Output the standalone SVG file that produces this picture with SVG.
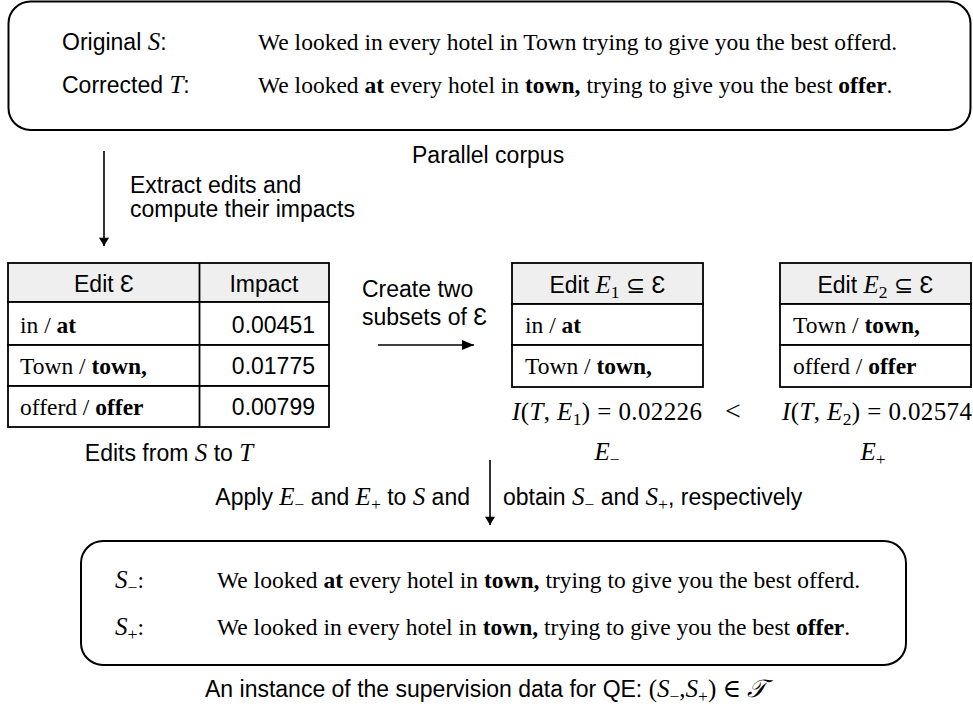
<svg xmlns="http://www.w3.org/2000/svg" width="973" height="709" viewBox="0 0 973 709">
  <defs>
    <style>
      .sans { font-family: "Liberation Sans", Arial, "DejaVu Sans", sans-serif; font-size: 23px; fill: #000; }
      .serif { font-family: "Liberation Serif", "Times New Roman", "DejaVu Serif", serif; font-size: 23.5px; fill: #000; }
      .m { font-family: "Liberation Serif", "Times New Roman", "DejaVu Serif", serif; font-style: italic; font-size: 25px; }
      .up { font-family: "Liberation Serif", "Times New Roman", "DejaVu Serif", serif; font-style: normal; font-size: 25px; }
      .sub { font-family: "Liberation Serif", "Times New Roman", "DejaVu Serif", serif; font-size: 17.5px; font-style: normal; }
      .b { font-weight: bold; }
      .box { fill: #fff; stroke: #000; stroke-width: 2; }
      .cell { fill: #fff; stroke: #000; stroke-width: 1.8; }
      .head { fill: #efefef; stroke: #000; stroke-width: 1.8; }
      .conn { fill: none; stroke: #000; stroke-width: 1.6; }
    </style>
    <marker id="arrow" viewBox="0 0 10 12" refX="10" refY="6" markerWidth="11" markerHeight="10" markerUnits="userSpaceOnUse" orient="auto">
      <path d="M0,0 L10,6 L0,12 Z" fill="#000"/>
    </marker>
    <marker id="arrowL" viewBox="0 0 12 10" refX="12" refY="5" markerWidth="12" markerHeight="10" markerUnits="userSpaceOnUse" orient="auto">
      <path d="M0,0 L12,5 L0,10 Z" fill="#000"/>
    </marker>
  </defs>

  <!-- Parallel corpus: original and corrected sentence -->
  <g id="corpus">
    <rect class="box" x="8.5" y="1.5" width="962" height="128.5" rx="22" ry="22"/>
    <text class="sans" x="62" y="50">Original <tspan class="m">S</tspan>:</text>
    <text class="sans" x="62" y="93">Corrected <tspan class="m">T</tspan>:</text>
    <text class="serif" x="258" y="50">We looked in every hotel in Town trying to give you the best offerd.</text>
    <text class="serif" x="258" y="93">We looked <tspan class="b">at</tspan> every hotel in <tspan class="b">town,</tspan> trying to give you the best <tspan class="b">offer</tspan>.</text>
  </g>
  <text class="sans" x="412" y="163">Parallel corpus</text>

  <!-- Edit table with impacts -->
  <g id="edits">
    <rect class="head" x="8" y="263" width="321" height="39"/>
    <rect class="cell" x="8" y="302" width="321" height="43"/>
    <rect class="cell" x="8" y="345" width="321" height="41"/>
    <rect class="cell" x="8" y="386" width="321" height="41"/>
    <line class="cell" x1="199.5" y1="263" x2="199.5" y2="427"/>
    <text class="sans" x="104" y="292" text-anchor="middle">Edit Ɛ</text>
    <text class="sans" x="264" y="292" text-anchor="middle">Impact</text>
    <text class="serif" x="20" y="333">in / <tspan class="b">at</tspan></text>
    <text class="serif" x="20" y="374">Town / <tspan class="b">town,</tspan></text>
    <text class="serif" x="20" y="415">offerd / <tspan class="b">offer</tspan></text>
    <text class="sans" x="315" y="333" text-anchor="end">0.00451</text>
    <text class="sans" x="315" y="374" text-anchor="end">0.01775</text>
    <text class="sans" x="315" y="415" text-anchor="end">0.00799</text>
    <text class="sans" x="169" y="461" text-anchor="middle">Edits from <tspan class="m">S</tspan> to <tspan class="m">T</tspan></text>
  </g>

  <!-- Subset E1 -->
  <g id="subset-e1">
    <rect class="head" x="512" y="263" width="191" height="41"/>
    <rect class="cell" x="512" y="304" width="191" height="41"/>
    <rect class="cell" x="512" y="345" width="191" height="42"/>
    <text class="sans" x="607.5" y="293" text-anchor="middle">Edit <tspan class="m">E</tspan><tspan class="sub" dy="5">1</tspan><tspan dy="-5"> ⊆ Ɛ</tspan></text>
    <text class="serif" x="525" y="333">in / <tspan class="b">at</tspan></text>
    <text class="serif" x="525" y="374">Town / <tspan class="b">town,</tspan></text>
    <text class="serif" x="512" y="420" textLength="190" lengthAdjust="spacing" style="font-size:25px"><tspan class="m">I</tspan>(<tspan class="m">T</tspan>, <tspan class="m">E</tspan><tspan class="sub" dy="5">1</tspan><tspan dy="-5">) = 0.02226</tspan></text>
    <text class="m" x="607" y="460" text-anchor="middle">E<tspan class="sub" dy="5">−</tspan></text>
  </g>

  <text class="serif" x="733" y="420" text-anchor="middle" style="font-size:28px">&lt;</text>

  <!-- Subset E2 -->
  <g id="subset-e2">
    <rect class="head" x="780" y="263" width="191" height="41"/>
    <rect class="cell" x="780" y="304" width="191" height="41"/>
    <rect class="cell" x="780" y="345" width="191" height="42"/>
    <text class="sans" x="875.5" y="293" text-anchor="middle">Edit <tspan class="m">E</tspan><tspan class="sub" dy="5">2</tspan><tspan dy="-5"> ⊆ Ɛ</tspan></text>
    <text class="serif" x="793" y="333">Town / <tspan class="b">town,</tspan></text>
    <text class="serif" x="793" y="374">offerd / <tspan class="b">offer</tspan></text>
    <text class="serif" x="782" y="420" textLength="190" lengthAdjust="spacing" style="font-size:25px"><tspan class="m">I</tspan>(<tspan class="m">T</tspan>, <tspan class="m">E</tspan><tspan class="sub" dy="5">2</tspan><tspan dy="-5">) = 0.02574</tspan></text>
    <text class="m" x="873" y="460" text-anchor="middle">E<tspan class="sub" dy="5">+</tspan></text>
  </g>

  <!-- Supervision instance -->
  <g id="instance">
    <rect class="box" x="81" y="541" width="825" height="124" rx="22" ry="22"/>
    <text class="serif" x="115" y="588"><tspan class="m">S</tspan><tspan class="sub" dy="5">−</tspan><tspan dy="-5">:</tspan></text>
    <text class="serif" x="115" y="635"><tspan class="m">S</tspan><tspan class="sub" dy="5">+</tspan><tspan dy="-5">:</tspan></text>
    <text class="serif" x="217" y="588">We looked <tspan class="b">at</tspan> every hotel in <tspan class="b">town,</tspan> trying to give you the best offerd.</text>
    <text class="serif" x="217" y="635">We looked in every hotel in <tspan class="b">town,</tspan> trying to give you the best <tspan class="b">offer</tspan>.</text>
  </g>
  <text class="sans" x="205" y="697">An instance of the supervision data for QE: <tspan class="up">(</tspan><tspan class="m">S</tspan><tspan class="sub" dy="5">−</tspan><tspan class="up" dy="-5">,</tspan><tspan class="m">S</tspan><tspan class="sub" dy="5">+</tspan><tspan class="up" dy="-5">) ∈ </tspan><tspan class="m">𝒯</tspan></text>

  <!-- Connectors -->
  <g id="connectors">
    <line class="conn" x1="104" y1="151" x2="104" y2="246" marker-end="url(#arrow)"/>
    <line class="conn" x1="378" y1="345" x2="474" y2="345" marker-end="url(#arrowL)"/>
    <line class="conn" x1="490" y1="460" x2="490" y2="525" marker-end="url(#arrow)"/>
  </g>

  <!-- Connector labels -->
  <g id="labels">
    <text class="sans" x="130" y="193">Extract edits and</text>
    <text class="sans" x="130" y="217">compute their impacts</text>
    <text class="sans" x="362" y="297">Create two</text>
    <text class="sans" x="362" y="325">subsets of Ɛ</text>
    <text class="sans" x="470" y="505" text-anchor="end">Apply <tspan class="m">E</tspan><tspan class="sub" dy="5">−</tspan><tspan dy="-5"> and </tspan><tspan class="m">E</tspan><tspan class="sub" dy="5">+</tspan><tspan dy="-5"> to </tspan><tspan class="m">S</tspan> and</text>
    <text class="sans" x="503" y="505">obtain <tspan class="m">S</tspan><tspan class="sub" dy="5">−</tspan><tspan dy="-5"> and </tspan><tspan class="m">S</tspan><tspan class="sub" dy="5">+</tspan><tspan dy="-5">, respectively</tspan></text>
  </g>
</svg>
